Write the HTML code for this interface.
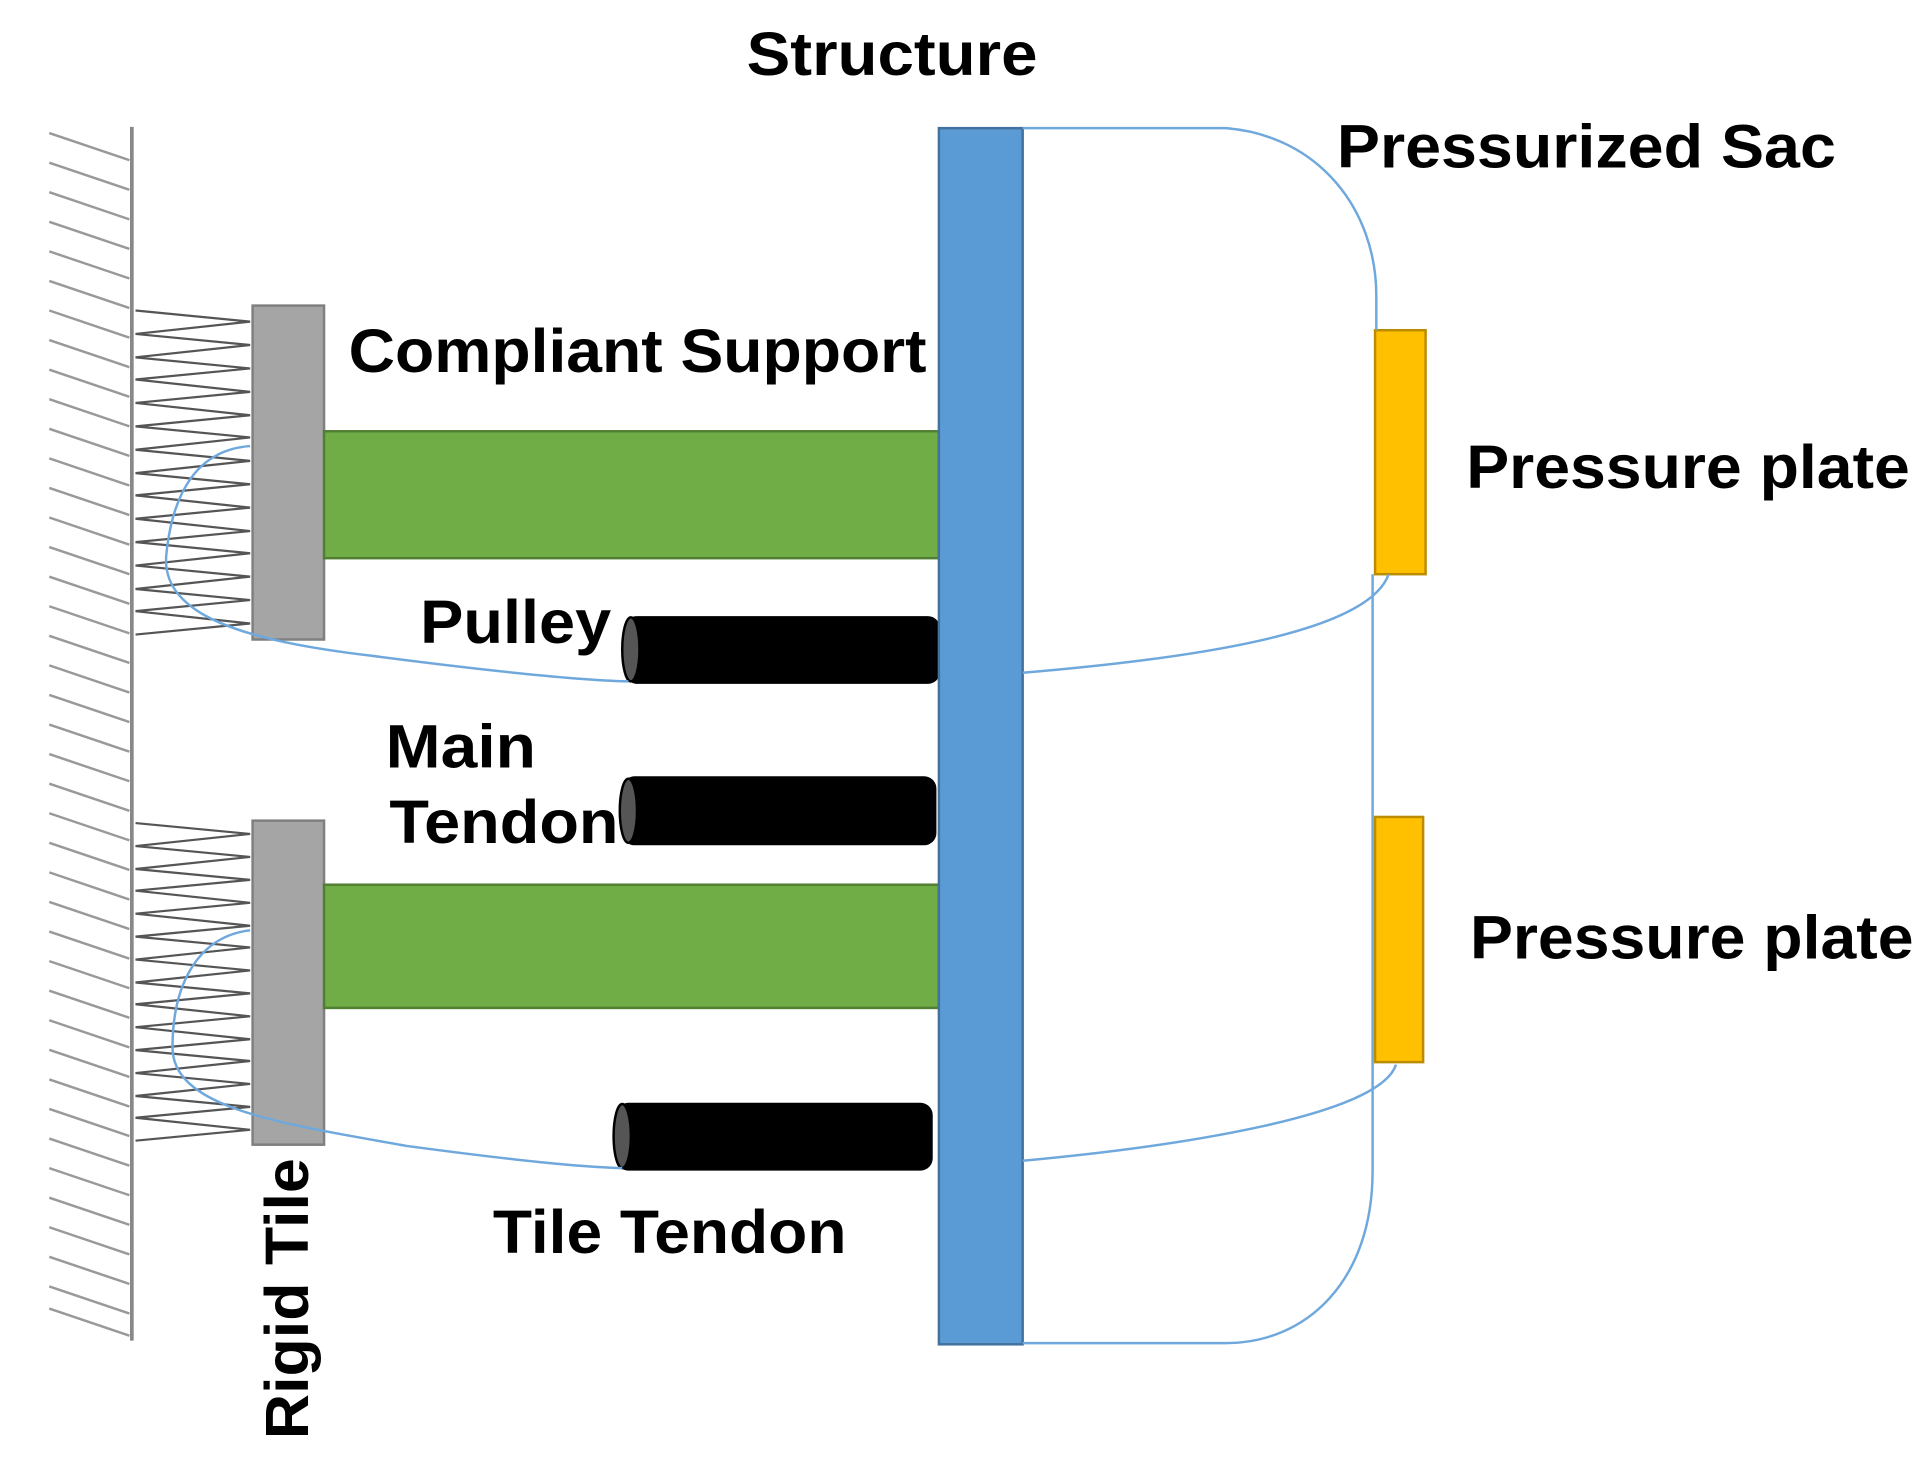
<!DOCTYPE html>
<html><head><meta charset="utf-8"><style>
html,body{margin:0;padding:0;background:#fff;}
svg{display:block;}
text{font-family:"Liberation Sans",Arial,sans-serif;font-weight:bold;fill:#000;}
</style></head><body>
<svg width="1932" height="1470" viewBox="0 0 1568 1193" preserveAspectRatio="none" xmlns="http://www.w3.org/2000/svg">
<rect width="1568" height="1193" fill="#fff"/>
<path stroke="#999" stroke-width="2" fill="none" d="M40,108 l65,22 M40,132 l65,22 M40,156 l65,22 M40,180 l65,22 M40,204 l65,22 M40,228 l65,22 M40,252 l65,22 M40,276 l65,22 M40,300 l65,22 M40,324 l65,22 M40,348 l65,22 M40,372 l65,22 M40,396 l65,22 M40,420 l65,22 M40,444 l65,22 M40,468 l65,22 M40,492 l65,22 M40,516 l65,22 M40,540 l65,22 M40,564 l65,22 M40,588 l65,22 M40,612 l65,22 M40,636 l65,22 M40,660 l65,22 M40,684 l65,22 M40,708 l65,22 M40,732 l65,22 M40,756 l65,22 M40,780 l65,22 M40,804 l65,22 M40,828 l65,22 M40,852 l65,22 M40,876 l65,22 M40,900 l65,22 M40,924 l65,22 M40,948 l65,22 M40,972 l65,22 M40,996 l65,22 M40,1020 l65,22 M40,1044 l65,22 M40,1062 l65,22"/>
<line x1="107" y1="103" x2="107" y2="1088" stroke="#888" stroke-width="3"/>
<polyline fill="none" stroke="#555" stroke-width="1.8" points="110,252 203,261 110,271 203,280 110,290 203,299 110,308 203,318 110,327 203,337 110,346 203,355 110,365 203,374 110,384 203,393 110,402 203,412 110,421 203,431 110,440 203,449 110,459 203,468 110,478 203,487 110,496 203,506 110,515"/>
<g transform="translate(0,668) scale(1,0.98) translate(0,-252)"><polyline fill="none" stroke="#555" stroke-width="1.8" points="110,252 203,261 110,271 203,280 110,290 203,299 110,308 203,318 110,327 203,337 110,346 203,355 110,365 203,374 110,384 203,393 110,402 203,412 110,421 203,431 110,440 203,449 110,459 203,468 110,478 203,487 110,496 203,506 110,515"/></g>
<rect x="205" y="248" width="58" height="271" fill="#a5a5a5" stroke="#7f7f7f" stroke-width="2"/>
<rect x="205" y="666" width="58" height="263" fill="#a5a5a5" stroke="#7f7f7f" stroke-width="2"/>
<rect x="263" y="350" width="499" height="103" fill="#70ad47" stroke="#507e32" stroke-width="2"/>
<rect x="263" y="718" width="499" height="100" fill="#70ad47" stroke="#507e32" stroke-width="2"/>
<rect x="507" y="500" width="256" height="55" rx="10" fill="#000"/>
<ellipse cx="512" cy="527" rx="7" ry="26" fill="#555" stroke="#000" stroke-width="2"/>
<rect x="505" y="630" width="255" height="56" rx="10" fill="#000"/>
<ellipse cx="510" cy="658" rx="7" ry="26" fill="#555" stroke="#000" stroke-width="2"/>
<rect x="500" y="895" width="257" height="55" rx="10" fill="#000"/>
<ellipse cx="505" cy="922" rx="7" ry="26" fill="#555" stroke="#000" stroke-width="2"/>
<rect x="762" y="104" width="68" height="987" fill="#5b9bd5" stroke="#41719c" stroke-width="2"/>
<rect x="1116" y="268" width="41" height="198" fill="#ffc000" stroke="#bc8c00" stroke-width="2"/>
<rect x="1116" y="663" width="39" height="199" fill="#ffc000" stroke="#bc8c00" stroke-width="2"/>
<g fill="none" stroke="#6fa8dc" stroke-width="2">
<path d="M830,104 L995,104 C1070,110 1117,170 1117,240 L1117,268"/>
<path d="M1114,466 L1114,950 C1114,1040 1060,1090 995,1090 L830,1090"/>
<path d="M830,546 C960,535 1110,515 1127,466"/>
<path d="M830,942 C960,930 1120,905 1133,864"/>
<path d="M203,362 C160,365 140,400 135,450 C130,500 200,520 300,532 C400,545 470,552 510,553"/>
<path d="M203,755 C160,760 140,800 140,850 C140,900 230,912 330,930 C420,942 470,947 505,948"/>
</g>
<g font-size="50" lengthAdjust="spacingAndGlyphs">
<text x="606" y="61" textLength="236" lengthAdjust="spacingAndGlyphs">Structure</text>
<text x="1085" y="136" textLength="405" lengthAdjust="spacingAndGlyphs">Pressurized Sac</text>
<text x="283" y="302" textLength="469" lengthAdjust="spacingAndGlyphs">Compliant Support</text>
<text x="1190" y="396" textLength="360" lengthAdjust="spacingAndGlyphs">Pressure plate</text>
<text x="1193" y="778" textLength="360" lengthAdjust="spacingAndGlyphs">Pressure plate</text>
<text x="341" y="522" textLength="155" lengthAdjust="spacingAndGlyphs">Pulley</text>
<text x="313" y="623" textLength="122" lengthAdjust="spacingAndGlyphs">Main</text>
<text x="316" y="684" textLength="186" lengthAdjust="spacingAndGlyphs">Tendon</text>
<text x="400" y="1017" textLength="287" lengthAdjust="spacingAndGlyphs">Tile Tendon</text>
<text transform="translate(250,1168) rotate(-90)" textLength="228" lengthAdjust="spacingAndGlyphs">Rigid Tile</text>
</g>
</svg>
</body></html>
